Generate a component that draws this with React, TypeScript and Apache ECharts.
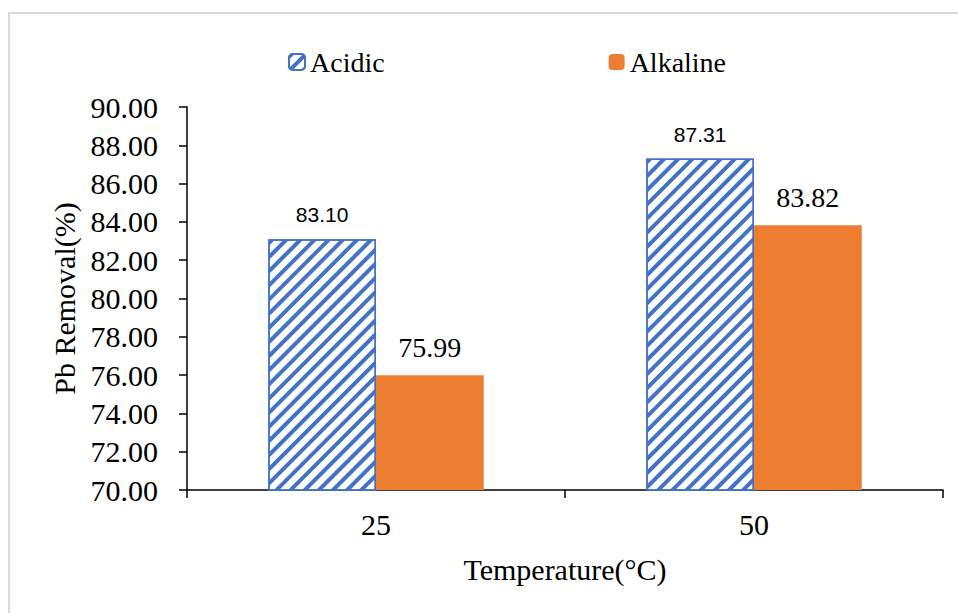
import React, { useEffect, useRef } from "react";
import * as echarts from "echarts";

const categories = ["25", "50"];
const acidic = [83.1, 87.31];
const alkaline = [75.99, 83.82];
const seriesNames = ["Acidic", "Alkaline"];

export default function App() {
  const ref = useRef<HTMLDivElement>(null);
  useEffect(() => {
    if (!ref.current) return;
    const chart = echarts.init(ref.current, null, { renderer: "svg" });
    const serif = "Liberation Serif";
    chart.setOption({
      animation: false,
      backgroundColor: "#fff",
      textStyle: { fontFamily: serif },
      graphic: [
        {
          type: "rect",
          shape: { x: 9, y: 13, width: 960, height: 620 },
          style: { fill: "none", stroke: "#d9d9d9", lineWidth: 2 },
          silent: true,
        },
      ],
      legend: {
        left: 288,
        top: 48,
        padding: 0,
        itemWidth: 16,
        itemHeight: 16,
        itemGap: 224,
        textStyle: { fontFamily: serif, fontSize: 28, color: "#000" },
        data: seriesNames,
      },
      grid: {
        left: 187,
        right: 15,
        top: 107,
        bottom: 123,
        containLabel: false,
        outerBoundsMode: "none",
      },
      xAxis: {
        type: "category",
        data: categories,
        name: "Temperature(°C)",
        nameLocation: "middle",
        nameGap: 64,
        nameTextStyle: { fontFamily: serif, fontSize: 30, color: "#000", verticalAlign: "top" },
        axisLine: { lineStyle: { color: "#000", width: 1.5 } },
        axisTick: { show: true, length: 8, lineStyle: { color: "#000", width: 1.5 } },
        axisLabel: { fontFamily: serif, fontSize: 30, color: "#000", margin: 19 },
      },
      yAxis: {
        type: "value",
        min: 70,
        max: 90,
        interval: 2,
        name: "Pb Removal(%)",
        nameLocation: "middle",
        nameGap: 107,
        nameTextStyle: { fontFamily: serif, fontSize: 30, color: "#000" },
        axisLine: { show: true, lineStyle: { color: "#000", width: 1.5 } },
        axisTick: { show: true, length: 8, lineStyle: { color: "#000", width: 1.5 } },
        splitLine: { show: false },
        axisLabel: {
          fontFamily: serif,
          fontSize: 30,
          color: "#000",
          margin: 29,
          formatter: (v: number) => v.toFixed(2),
        },
      },
      series: [
        {
          name: seriesNames[0],
          type: "bar",
          data: acidic,
          barGap: "0%",
          barCategoryGap: "43%",
          itemStyle: {
            color: "#ffffff",
            borderColor: "#4472C4",
            borderWidth: 1.5,
            decal: {
              symbol: "rect",
              symbolSize: 1,
              symbolKeepAspect: false,
              color: "#4472C4",
              dashArrayX: [1, 0],
              dashArrayY: [4, 6],
              rotation: -Math.PI / 4,
            },
          },
          label: {
            show: true,
            position: "top",
            distance: 14,
            fontFamily: "Liberation Sans",
            fontSize: 21,
            color: "#000",
            formatter: (p: any) => Number(p.value).toFixed(2),
          },
        },
        {
          name: seriesNames[1],
          type: "bar",
          data: alkaline,
          barGap: "0%",
          barCategoryGap: "43%",
          itemStyle: { color: "#ED7D31" },
          label: {
            show: true,
            position: "top",
            distance: 14,
            fontFamily: serif,
            fontSize: 28,
            color: "#000",
            formatter: (p: any) => Number(p.value).toFixed(2),
          },
        },
      ],
    });
    return () => chart.dispose();
  }, []);
  return (
    <div
      ref={ref}
      style={{ position: "fixed", left: 0, top: 0, width: 958, height: 613 }}
    />
  );
}
